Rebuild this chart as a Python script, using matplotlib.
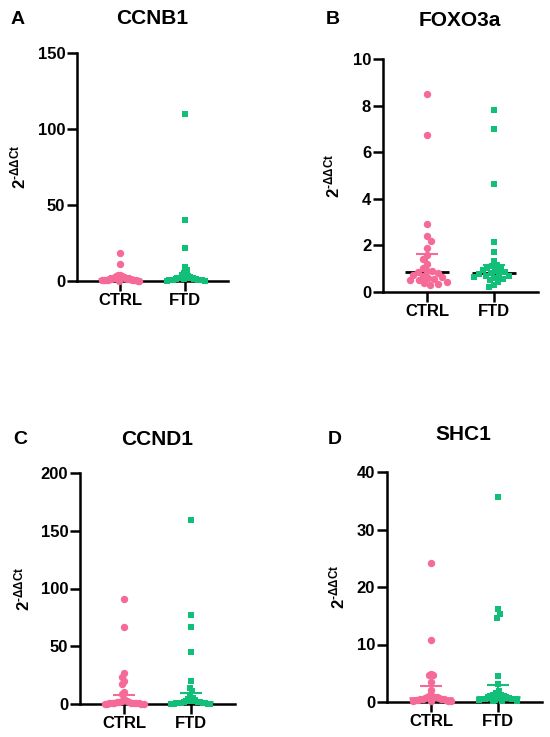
import matplotlib
matplotlib.use("Agg")
import matplotlib.pyplot as plt
import numpy as np

plt.rcParams['font.family'] = ['Liberation Sans', 'DejaVu Sans']
plt.rcParams['font.weight'] = 'bold'
plt.rcParams['mathtext.fontset'] = 'custom'
plt.rcParams['mathtext.rm'] = 'Liberation Sans:bold'
plt.rcParams['mathtext.bf'] = 'Liberation Sans:bold'
plt.rcParams['mathtext.it'] = 'Liberation Sans:bold'

groups = ["CTRL", "FTD"]
genes = ["CCNB1", "FOXO3a", "CCND1", "SHC1"]
letters = ["A", "B", "C", "D"]

ccnb1_ctrl = [18.5, 11, 4.2, 3.8, 3.5, 3.0, 2.6, 2.2, 2.0, 1.8, 1.6, 1.4, 1.2,
              1.1, 1.0, 0.9, 0.8, 0.7, 0.6, 0.5, 0.45, 0.4, 0.3, 0.25, 0.2]
ccnb1_ftd = [110, 40, 22, 9, 7, 5.5, 4, 3.5, 3, 2.6, 2.2, 2.0, 1.8, 1.6, 1.4,
             1.2, 1.0, 0.9, 0.8, 0.7, 0.6, 0.5, 0.4, 0.3, 0.2]
foxo3a_ctrl = [8.5, 6.75, 2.9, 2.4, 2.2, 1.9, 1.6, 1.4, 1.2, 1.05, 0.9, 0.88,
               0.85, 0.82, 0.75, 0.7, 0.65, 0.6, 0.55, 0.5, 0.5, 0.45, 0.4, 0.35, 0.3]
foxo3a_ftd = [7.8, 7.0, 4.65, 2.15, 1.7, 1.35, 1.15, 1.1, 1.05, 1.0, 0.95, 0.9,
              0.85, 0.8, 0.78, 0.75, 0.7, 0.7, 0.65, 0.6, 0.55, 0.5, 0.45, 0.3, 0.2]
ccnd1_ctrl = [91, 67, 27, 23, 20, 17, 10, 8.5, 4, 3, 2.5, 2, 1.8, 1.5, 1.2, 1.0,
              0.9, 0.8, 0.7, 0.6, 0.5, 0.4, 0.3, 0.2, 0.1]
ccnd1_ftd = [159, 77, 67, 45, 19.5, 14, 11, 8, 5.5, 4, 3.5, 3, 2.5, 2, 1.8, 1.5,
             1.2, 1.0, 0.8, 0.6, 0.5, 0.4, 0.3, 0.2, 0.1]
shc1_ctrl = [24.2, 10.7, 4.8, 4.7, 4.7, 3.5, 2.1, 1.2, 1.0, 0.9, 0.85, 0.8, 0.75,
             0.7, 0.6, 0.55, 0.5, 0.45, 0.4, 0.35, 0.3, 0.25, 0.2, 0.15, 0.1]
shc1_ftd = [35.7, 16.2, 15.3, 14.6, 4.6, 3.1, 2.0, 1.5, 1.3, 1.2, 1.1, 1.0, 0.9,
            0.85, 0.8, 0.7, 0.6, 0.55, 0.5, 0.45, 0.4, 0.3, 0.25, 0.2, 0.1]

medians = [[1.0, 1.2], [0.87, 0.82], [1.2, 1.5], [0.7, 0.8]]
err_low = [[0.5, 0.6], [0.5, 0.6], [0.5, 0.5], [0.4, 0.4]]
err_high = [[3.0, 3.5], [1.65, 1.15], [7.8, 9.2], [2.75, 2.95]]

y_max = [150, 10, 200, 40]
y_ticks = [[0, 50, 100, 150], [0, 2, 4, 6, 8, 10], [0, 50, 100, 150, 200], [0, 10, 20, 30, 40]]

data = [[ccnb1_ctrl, ccnb1_ftd], [foxo3a_ctrl, foxo3a_ftd],
        [ccnd1_ctrl, ccnd1_ftd], [shc1_ctrl, shc1_ftd]]

pink = '#F66A98'
green = '#12BF78'
colors = [pink, green]
markers = ['o', 's']

W, H = 550, 737
fig = plt.figure(figsize=(W / 100, H / 100), dpi=100)

# axes boxes in pixels: left, top, right, bottom
boxes = [(77, 53, 228, 281), (383, 59, 538, 292), (80, 473, 235, 704), (387, 472, 542, 702)]
title_pos = [(152, 18), (460, 20), (157, 440), (463, 435)]
letter_pos = [(18, 20), (333, 20), (20, 440), (335, 440)]
ylab_x = [18, 332, 22, 337]

XLIM = (-0.66, 1.66)
MAX_SPREAD = 19.5  # px half-width of a swarm


def swarm(vals, xc, sx, sy, d):
    placed = []
    offs = []
    for i, v in enumerate(vals):
        y = v * sy
        chosen = 0.0
        first = 1 if i % 2 == 0 else -1
        for k in range(0, 400):
            cands = [0.0] if k == 0 else [first * k * 0.5, -first * k * 0.5]
            ok = None
            for c in cands:
                if all((c - px) ** 2 + (y - py) ** 2 >= d * d for px, py in placed):
                    ok = c
                    break
            if ok is not None:
                chosen = ok
                break
        placed.append((chosen, y))
        offs.append(chosen)
    offs = np.array(offs)
    m = np.abs(offs).max()
    if m > MAX_SPREAD:
        offs = offs * MAX_SPREAD / m
    return xc + offs / sx


for p in range(4):
    l, t, r, b = boxes[p]
    ax = fig.add_axes([l / W, 1 - b / H, (r - l) / W, (b - t) / H])
    ax.set_xlim(*XLIM)
    ax.set_ylim(0, y_max[p])
    sx = (r - l) / (XLIM[1] - XLIM[0])
    sy = (b - t) / y_max[p]
    for g in range(2):
        vals = data[p][g]
        xs = swarm(vals, g, sx, sy, 6.5)
        ms = 7.4 * 0.72 if markers[g] == 'o' else 6.6 * 0.72
        med_col = 'black' if p == 1 else colors[g]
        ax.plot([g - 0.33, g + 0.33], [medians[p][g]] * 2, color=med_col, lw=2.0,
                zorder=2, solid_capstyle='butt', clip_on=False)
        ax.plot(xs, vals, linestyle='none', marker=markers[g], ms=ms, color=colors[g],
                markeredgewidth=0, zorder=3, clip_on=False)
        ax.plot([g, g], [err_low[p][g], err_high[p][g]], color=colors[g], lw=1.5, zorder=4)
        for e in (err_low[p][g], err_high[p][g]):
            ax.plot([g - 0.165, g + 0.165], [e, e], color=colors[g], lw=1.5, zorder=4,
                    solid_capstyle='butt')
    ax.set_xticks([0, 1])
    ax.set_xticklabels(groups, fontsize=12, fontweight='bold')
    ax.set_yticks(y_ticks[p])
    ax.set_yticklabels([str(v) for v in y_ticks[p]], fontsize=12, fontweight='bold')
    for s in ['top', 'right']:
        ax.spines[s].set_visible(False)
    for s in ['left', 'bottom']:
        ax.spines[s].set_linewidth(1.8)
    ax.tick_params(axis='both', length=7, width=1.8, pad=1.5)
    ax.tick_params(axis='x', pad=2)

    tx, ty = title_pos[p]
    fig.text(tx / W, 1 - ty / H, genes[p], ha='center', va='center', fontsize=15,
             fontweight='bold')
    lx, ly = letter_pos[p]
    fig.text(lx / W, 1 - ly / H, letters[p], ha='center', va='center', fontsize=14,
             fontweight='bold')
    fig.text(ylab_x[p] / W, 1 - ((t + b) / 2) / H, r'$\mathbf{2}^{\text{-}\mathbf{ΔΔCt}}$',
             rotation=90, ha='center', va='center', fontsize=12)

fig.savefig('out.png', dpi=100)
